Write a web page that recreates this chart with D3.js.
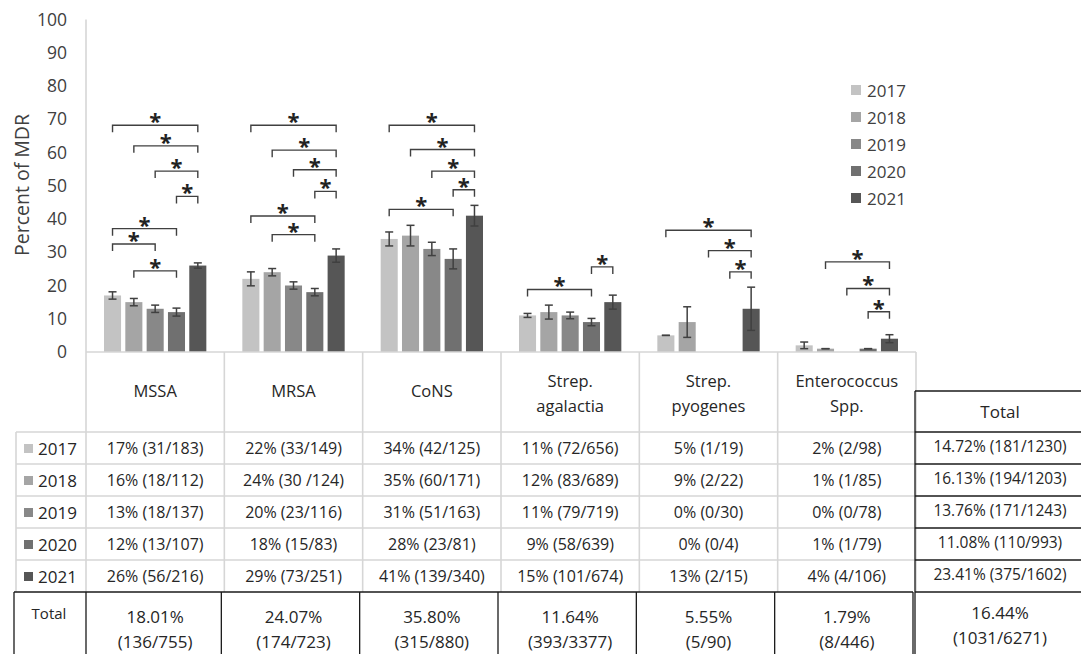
<!DOCTYPE html>
<html>
<head>
<meta charset="utf-8">
<script src="https://cdn.jsdelivr.net/npm/d3@7"></script>
<style>
  body { margin: 0; background: #fff; }
  text { font-family: "Open Sans", sans-serif; fill: #262626; }
</style>
</head>
<body>
<div id="chart"></div>
<script>
// Data
const categories = ["MSSA", "MRSA", "CoNS", "Strep. agalactia", "Strep. pyogenes", "Enterococcus Spp."];
const years = ["2017", "2018", "2019", "2020", "2021"];

// percent MDR per year, one value per category
const pct2017 = [17, 22, 34, 11, 5, 2];
const pct2018 = [15, 24, 35, 12, 9, 1];
const pct2019 = [13, 20, 31, 11, 0, 0];
const pct2020 = [12, 18, 28, 9, 0, 1];
const pct2021 = [26, 29, 41, 15, 13, 4];

// error bar half-widths (null = no bar drawn)
const err2017 = [1.1, 2.1, 2.1, 0.6, 0, 1];
const err2018 = [1.1, 1.1, 3.1, 2.1, 4.6, 0];
const err2019 = [1.1, 1.1, 2, 1, null, null];
const err2020 = [1.2, 1.1, 3, 1.1, null, 0];
const err2021 = [0.8, 2, 3.1, 2.1, 6.5, 1.2];

// significance brackets: [category index, from year idx, to year idx, level (%)]
const brackets = [
    [0, 0, 4, 68.2], [0, 1, 4, 62], [0, 2, 4, 54.4], [0, 3, 4, 46.8], [0, 0, 3, 37.1], [0, 0, 2, 32.5], [0, 1, 3, 24.4],
    [1, 0, 4, 68.2], [1, 1, 4, 60.7], [1, 2, 4, 54.8], [1, 3, 4, 48.3], [1, 0, 3, 40.9], [1, 1, 3, 35.3],
    [2, 0, 4, 68.2], [2, 1, 4, 60.9], [2, 2, 4, 54.4], [2, 3, 4, 48.8], [2, 0, 3, 42.9],
    [3, 0, 3, 18.8], [3, 3, 4, 25.6],
    [4, 0, 4, 36.6], [4, 2, 4, 30.5], [4, 3, 4, 24.1],
    [5, 1, 4, 27.1], [5, 2, 4, 19.1], [5, 3, 4, 12.1]
];

const yTicks = [0, 10, 20, 30, 40, 50, 60, 70, 80, 90, 100];

// table text
const cells2017 = ["17% (31/183)", "22% (33/149)", "34% (42/125)", "11% (72/656)", "5% (1/19)", "2% (2/98)"];
const cells2018 = ["16% (18/112)", "24% (30 /124)", "35% (60/171)", "12% (83/689)", "9% (2/22)", "1% (1/85)"];
const cells2019 = ["13% (18/137)", "20% (23/116)", "31% (51/163)", "11% (79/719)", "0% (0/30)", "0% (0/78)"];
const cells2020 = ["12% (13/107)", "18% (15/83)", "28% (23/81)", "9% (58/639)", "0% (0/4)", "1% (1/79)"];
const cells2021 = ["26% (56/216)", "29% (73/251)", "41% (139/340)", "15% (101/674)", "13% (2/15)", "4% (4/106)"];
const yearTotals = ["14.72% (181/1230)", "16.13% (194/1203)", "13.76% (171/1243)", "11.08% (110/993)", "23.41% (375/1602)"];
const categoryTotals = [
    ["18.01%", "(136/755)"], ["24.07%", "(174/723)"], ["35.80%", "(315/880)"],
    ["11.64%", "(393/3377)"], ["5.55%", "(5/90)"], ["1.79%", "(8/446)"]
];
const grandTotal = ["16.44%", "(1031/6271)"];

const pctByYear = [pct2017, pct2018, pct2019, pct2020, pct2021];
const errByYear = [err2017, err2018, err2019, err2020, err2021];
const cellsByYear = [cells2017, cells2018, cells2019, cells2020, cells2021];

// Set up dimensions
const width = 1081, height = 654;
const plotLeft = 86, plotRight = 916, baseY = 352;
const keyLeft = 16;
const tableTop = 432, tableBottom = 592;
const grey = "#d6d6d6", ink = "#404040";

const svg = d3.select("#chart").append("svg")
    .attr("width", width)
    .attr("height", height);

svg.append("rect").attr("width", width).attr("height", height).attr("fill", "#fff");

// Scales
const y = d3.scaleLinear().domain([0, 100]).range([baseY, 19.5]);
const x = d3.scaleBand().domain(categories).range([plotLeft, plotRight]);
const xYear = d3.scaleBand().domain(years)
    .range([18, x.bandwidth() - 18])
    .paddingInner(0.2);
const color = d3.scaleOrdinal().domain(years)
    .range(["#c3c3c3", "#a5a5a5", "#888888", "#707070", "#565656"]);
const rowY = d3.scaleBand().domain(years).range([tableTop, tableBottom]);

// Y axis labels (no tick marks)
const yAxis = d3.axisLeft(y).tickValues(yTicks).tickSize(0).tickPadding(0);
const gy = svg.append("g")
    .attr("transform", `translate(${plotLeft - 19},0)`)
    .call(yAxis);
gy.select(".domain").remove();
gy.selectAll("text")
    .style("font-family", "'Open Sans', sans-serif")
    .style("font-size", "17.5px")
    .style("fill", ink);

svg.append("text")
    .attr("transform", `translate(24,${185}) rotate(-90)`)
    .attr("text-anchor", "middle")
    .attr("dominant-baseline", "middle")
    .style("font-size", "19.5px")
    .style("fill", ink)
    .text("Percent of MDR");

// Bars
const barData = [];
years.forEach((yr, yi) => {
    categories.forEach((cat, ci) => {
        barData.push({ year: yr, cat: cat, value: pctByYear[yi][ci], err: errByYear[yi][ci] });
    });
});

svg.append("g").selectAll("rect")
    .data(barData.filter(d => d.value > 0))
    .join("rect")
    .attr("x", d => x(d.cat) + xYear(d.year))
    .attr("y", d => y(d.value))
    .attr("width", xYear.bandwidth())
    .attr("height", d => baseY - y(d.value))
    .attr("fill", d => color(d.year));

// Error bars
const errG = svg.append("g").attr("stroke", ink).attr("stroke-width", 1.5).attr("fill", "none");
barData.filter(d => d.err !== null && d.value > 0).forEach(d => {
    const cx = x(d.cat) + xYear(d.year) + xYear.bandwidth() / 2;
    const lo = y(d.value - d.err), hi = y(d.value + d.err);
    errG.append("line").attr("x1", cx).attr("x2", cx).attr("y1", lo).attr("y2", hi);
    errG.append("line").attr("x1", cx - 4).attr("x2", cx + 4).attr("y1", lo).attr("y2", lo);
    errG.append("line").attr("x1", cx - 4).attr("x2", cx + 4).attr("y1", hi).attr("y2", hi);
});

// Significance brackets
const brG = svg.append("g");
brackets.forEach(([ci, a, b, level]) => {
    const cat = categories[ci];
    const xa = x(cat) + xYear(years[a]) + xYear.bandwidth() / 2;
    const xb = x(cat) + xYear(years[b]) + xYear.bandwidth() / 2;
    const yl = y(level);
    brG.append("path")
        .attr("d", `M${xa},${yl + 7}V${yl}H${xb}V${yl + 7}`)
        .attr("fill", "none")
        .attr("stroke", ink)
        .attr("stroke-width", 1.4);
    brG.append("text")
        .attr("x", (xa + xb) / 2)
        .attr("y", yl + 4)
        .attr("text-anchor", "middle")
        .style("font-size", "22px")
        .style("font-weight", "bold")
        .style("fill", "#222")
        .text("*");
});

// Legend
const legend = svg.append("g").attr("transform", "translate(851,85)");
years.forEach((yr, i) => {
    legend.append("rect")
        .attr("x", 0).attr("y", i * 27)
        .attr("width", 10).attr("height", 10)
        .attr("fill", color(yr));
    legend.append("text")
        .attr("x", 16).attr("y", i * 27 + 5)
        .attr("dominant-baseline", "central")
        .style("font-size", "17px")
        .style("fill", ink)
        .text(yr);
});

// Table grid (grey)
const grid = svg.append("g").attr("stroke", grey).attr("stroke-width", 1.6);
// axis line + vertical axis
grid.append("line").attr("x1", plotLeft).attr("x2", plotRight).attr("y1", baseY).attr("y2", baseY);
grid.append("line").attr("x1", plotLeft).attr("x2", plotLeft).attr("y1", y(100)).attr("y2", tableBottom);
categories.forEach(cat => {
    const xr = x(cat) + x.bandwidth();
    grid.append("line").attr("x1", xr).attr("x2", xr).attr("y1", baseY).attr("y2", tableBottom);
});
grid.append("line").attr("x1", keyLeft).attr("x2", keyLeft).attr("y1", tableTop).attr("y2", tableBottom);
years.forEach(yr => {
    grid.append("line").attr("x1", keyLeft).attr("x2", plotRight)
        .attr("y1", rowY(yr)).attr("y2", rowY(yr));
});

// Header row: category names
const headerLines = categories.map(c => {
    if (c.startsWith("Strep. ")) return ["Strep.", c.slice(7)];
    if (c.startsWith("Enterococcus ")) return ["Enterococcus", c.slice(13)];
    return [c];
});
categories.forEach((cat, ci) => {
    const lines = headerLines[ci];
    const cx = x(cat) + x.bandwidth() / 2;
    lines.forEach((ln, li) => {
        svg.append("text")
            .attr("x", cx)
            .attr("y", lines.length === 1 ? 390 : 380 + li * 25)
            .attr("text-anchor", "middle")
            .attr("dominant-baseline", "central")
            .style("font-size", "16.5px")
            .text(ln);
    });
});

// Body rows
years.forEach((yr, yi) => {
    const cy = rowY(yr) + rowY.bandwidth() / 2;
    svg.append("rect")
        .attr("x", 24).attr("y", cy - 4)
        .attr("width", 9).attr("height", 9)
        .attr("fill", color(yr));
    svg.append("text")
        .attr("x", 38).attr("y", cy)
        .attr("dominant-baseline", "central")
        .style("font-size", "17px")
        .text(yr);
    categories.forEach((cat, ci) => {
        svg.append("text")
            .attr("x", x(cat) + x.bandwidth() / 2)
            .attr("y", cy)
            .attr("text-anchor", "middle")
            .attr("dominant-baseline", "central")
            .style("font-size", "16px")
            .text(cellsByYear[yi][ci]);
    });
});

// Total row (black boxes)
const blk = svg.append("g").attr("stroke", "#1a1a1a").attr("stroke-width", 1.3).attr("fill", "none");
blk.append("line").attr("x1", 14).attr("x2", 913).attr("y1", tableBottom).attr("y2", tableBottom);
const totalEdges = [14, plotLeft].concat(categories.map(c => x(c) + x.bandwidth() - 3));
totalEdges.forEach(xe => {
    blk.append("line").attr("x1", xe).attr("x2", xe).attr("y1", tableBottom).attr("y2", height + 5);
});
svg.append("text")
    .attr("x", 49).attr("y", 613)
    .attr("text-anchor", "middle")
    .attr("dominant-baseline", "central")
    .style("font-size", "15px")
    .text("Total");
categories.forEach((cat, ci) => {
    categoryTotals[ci].forEach((ln, li) => {
        svg.append("text")
            .attr("x", x(cat) + x.bandwidth() / 2)
            .attr("y", 616 + li * 25)
            .attr("text-anchor", "middle")
            .attr("dominant-baseline", "central")
            .style("font-size", "17px")
            .text(ln);
    });
});

// Total column
const totLeft = plotRight - 1, totCx = 1000;
blk.append("line").attr("x1", totLeft).attr("x2", width).attr("y1", 391).attr("y2", 391);
blk.append("line").attr("x1", totLeft).attr("x2", totLeft).attr("y1", 391).attr("y2", height + 5);
years.forEach(yr => {
    const yl = rowY(yr);
    blk.append("line").attr("x1", totLeft).attr("x2", width).attr("y1", yl).attr("y2", yl);
});
blk.append("line").attr("x1", totLeft).attr("x2", width).attr("y1", tableBottom).attr("y2", tableBottom);
svg.append("text")
    .attr("x", totCx).attr("y", 411)
    .attr("text-anchor", "middle")
    .attr("dominant-baseline", "central")
    .style("font-size", "17px")
    .text("Total");
years.forEach((yr, yi) => {
    svg.append("text")
        .attr("x", totCx).attr("y", rowY(yr) + rowY.bandwidth() / 2 - 2)
        .attr("text-anchor", "middle")
        .attr("dominant-baseline", "central")
        .style("font-size", "15.5px")
        .text(yearTotals[yi]);
});
grandTotal.forEach((ln, li) => {
    svg.append("text")
        .attr("x", totCx).attr("y", 612 + li * 25)
        .attr("text-anchor", "middle")
        .attr("dominant-baseline", "central")
        .style("font-size", "17px")
        .text(ln);
});
</script>
</body>
</html>
